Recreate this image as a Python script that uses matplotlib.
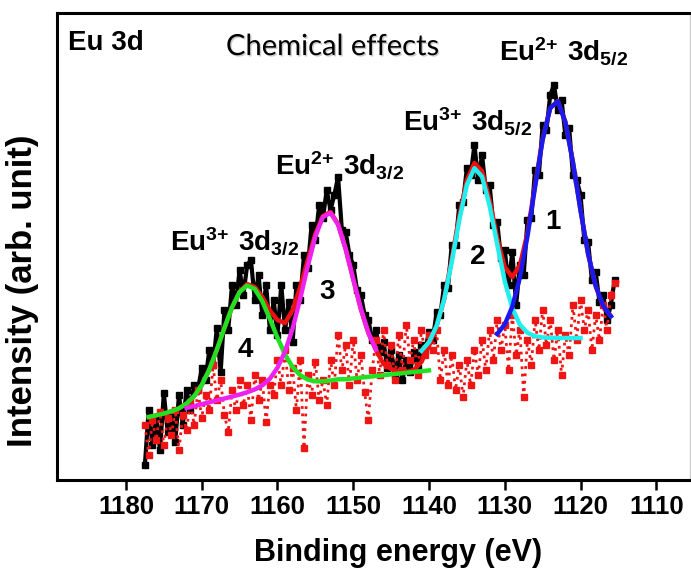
import numpy as np
import matplotlib
import matplotlib.pyplot as plt
import matplotlib.patheffects as pe

matplotlib.use("Agg")

plt.rcParams['font.family'] = ['Liberation Sans', 'DejaVu Sans']
plt.rcParams['font.weight'] = 'bold'
plt.rcParams['mathtext.fontset'] = 'custom'
plt.rcParams['mathtext.rm'] = 'Liberation Sans:bold'
plt.rcParams['mathtext.bf'] = 'Liberation Sans:bold'
plt.rcParams['mathtext.default'] = 'bf'

# raw spectrum (black), 0.5 eV steps starting at 1177.5 eV
raw = [15, 70, 35, 62, 30, 87, 48, 66, 38, 85,
       55, 90, 70, 95, 90, 112, 100, 130, 115, 152,
       108, 170, 150, 195, 175, 210, 185, 215, 220, 180,
       205, 165, 195, 150, 180, 145, 195, 150, 178, 138,
       195, 180, 225, 212, 255, 240, 275, 262, 290, 270,
       285, 303, 250, 248, 225, 215, 190, 185, 165, 160,
       140, 150, 128, 138, 112, 130, 105, 125, 100, 120,
       108, 128, 112, 135, 130, 148, 140, 168, 165, 195,
       192, 235, 235, 275, 278, 312, 305, 335, 300, 325,
       290, 295, 255, 258, 222, 230, 195, 228, 175, 215,
       205, 260, 262, 310, 305, 355, 350, 385, 395, 370,
       380, 345, 352, 305, 300, 285, 240, 238, 200, 208,
       178, 185, 160, 175, 200]

# red dotted residual / background points, same energies
resid = [55, 25, 60, 40, 68, 35, 62, 45, 70, 30,
         65, 50, 78, 55, 90, 62, 85, 70, 115, 80,
         100, 65, 48, 90, 70, 100, 75, 95, 60, 105,
         80, 100, 58, 95, 85, 120, 95, 130, 90, 112,
         70, 120, 32, 105, 85, 118, 80, 100, 75, 120,
         95, 145, 110, 135, 95, 140, 100, 125, 88, 60,
         110, 140, 105, 150, 115, 135, 100, 145, 110, 155,
         120, 140, 105, 150, 125, 145, 130, 150, 100, 130,
         95, 125, 90, 115, 83, 120, 95, 130, 105, 140,
         110, 150, 120, 160, 130, 155, 110, 165, 125, 150,
         83, 140, 115, 160, 130, 170, 135, 160, 120, 150,
         105, 145, 125, 175, 140, 180, 150, 170, 130, 165,
         140, 175, 150, 185, 197]

e_raw = 1177.5 - 0.5 * np.arange(len(raw))

# fitted envelope (red) 1177 -> 1116 eV, 1 eV steps
env = [63, 64.7, 66.5, 68.6, 71.7, 76.4, 83.8, 94.9, 110.5, 130.3,
       152.1, 172.7, 188.2, 196, 193, 183, 169.5, 160, 157, 170,
       193, 220, 246, 264, 268, 256, 231, 201, 171, 147,
       130, 116, 111, 108.5, 108, 110, 118, 134, 154, 181,
       221, 264, 300, 317, 309, 280, 242, 213, 203, 215,
       247, 295, 341, 372, 379, 358, 318, 270, 226, 194,
       174, 164]
e_env = 1177 - np.arange(len(env))

# component 4: Eu3+ 3d3/2 (green), 1177 -> 1140 eV
p4 = [63, 64.7, 66.5, 68.6, 71.7, 76.4, 83.8, 94.9, 110.5, 130.3,
      152.1, 172.7, 188, 194.5, 191, 178.7, 161.1, 142.3, 125.5, 112.9,
      104.8, 100.4, 98.7, 98.6, 99.5, 100.7, 100.8, 101.6, 102.4, 103.2,
      104, 104.8, 105.6, 106.4, 107.2, 108, 108.8, 109.6]
e_p4 = 1177 - np.arange(len(p4))

# component 3: Eu2+ 3d3/2 (magenta), 1172 -> 1147 eV
p3 = [72, 73.9, 75.8, 77.7, 79.6, 81.5, 83.4, 85.5, 87.7, 90.6,
      94.7, 101.3, 112.3, 128.3, 151.6, 181.3, 214, 243.6, 263, 267.2,
      255.4, 231.2, 200.9, 171.4, 147.3, 130.4]
e_p3 = 1172 - np.arange(len(p3))

# component 2: Eu3+ 3d5/2 (cyan), 1141 -> 1120 eV
p2 = [129.2, 137.9, 154, 180.6, 217.8, 259.8, 295.2, 311.8, 303.4, 274.3,
      236, 198.8, 171.6, 155.3, 147.2, 143.7, 142.6, 142.2, 142, 142,
      142, 142]
e_p2 = 1141 - np.arange(len(p2))

# component 1: Eu2+ 3d5/2 (blue), 1131 -> 1116 eV
p1 = [146, 155.6, 173.4, 202.6, 243.9, 293.1, 340.2, 372.1, 378.7, 358,
      317.5, 269.7, 226.3, 194.1, 174.1, 163.7]
e_p1 = 1131 - np.arange(len(p1))

xticks = [1180, 1170, 1160, 1150, 1140, 1130, 1120, 1110]

fig = plt.figure(figsize=(6.91, 5.71), dpi=100)
ax = fig.add_axes([0.0825, 0.1594, 0.9155, 0.8177])

ax.plot(e_raw, raw, color='black', lw=3, marker='s', ms=4, zorder=2)
ax.plot(e_raw, resid, color='#f01515', lw=2, ls=':', marker='s', ms=4, zorder=3)
ax.plot(e_env, env, color='#ee1111', lw=3.2, zorder=4)
ax.plot(e_p4, p4, color='#22e022', lw=3.2, zorder=5)
ax.plot(e_p3, p3, color='#ee22ee', lw=3.2, zorder=5)
ax.plot(e_p2, p2, color='#22eeee', lw=3.2, zorder=5)
ax.plot(e_p1, p1, color='#1a1aee', lw=3.2, zorder=5)

ax.set_xlim(1189.1, 1105.6)
ax.set_ylim(0, 467)
ax.set_xticks(xticks)
ax.set_yticks([])
ax.tick_params(axis='x', direction='out', length=7, width=1.8, labelsize=18.5, pad=4)
for lab in ax.get_xticklabels():
    lab.set_fontweight('bold')
for side in ['left', 'top', 'bottom']:
    ax.spines[side].set_linewidth(2.2)
ax.spines['right'].set_color('#cccccc')
ax.spines['right'].set_linewidth(1)

ax.text(1187.7, 437, 'Eu 3d', fontsize=20, fontweight='bold', ha='left', va='center')
ax.text(1166.8, 433, 'Chemical effects', fontsize=21, fontweight='normal',
        family=['Lato', 'DejaVu Sans'], ha='left', va='center',
        path_effects=[pe.withSimplePatchShadow(offset=(1, -1), shadow_rgbFace='gray', alpha=0.4)])

labels = [(1130.7, 420, r'$\mathbf{Eu^{2{+}}\ 3d_{5/2}}$'),
          (1143.4, 350, r'$\mathbf{Eu^{3{+}}\ 3d_{5/2}}$'),
          (1160.3, 306, r'$\mathbf{Eu^{2{+}}\ 3d_{3/2}}$'),
          (1174.2, 230, r'$\mathbf{Eu^{3{+}}\ 3d_{3/2}}$')]
for ex, ey, s in labels:
    ax.text(ex, ey, s, fontsize=20, ha='left', va='baseline')

for num, ex, ey in [('1', 1123.6, 258), ('2', 1133.6, 223), ('3', 1153.4, 188), ('4', 1164.3, 130)]:
    ax.text(ex, ey, num, fontsize=20, fontweight='bold', ha='center', va='center', zorder=6)

fig.text(0.032, 0.49, 'Intensity (arb. unit)', rotation=90, fontsize=25,
         fontweight='bold', ha='center', va='center')
fig.text(0.576, 0.031, 'Binding energy (eV)', fontsize=22, fontweight='bold',
         ha='center', va='center')

fig.savefig('out.png', dpi=100)
